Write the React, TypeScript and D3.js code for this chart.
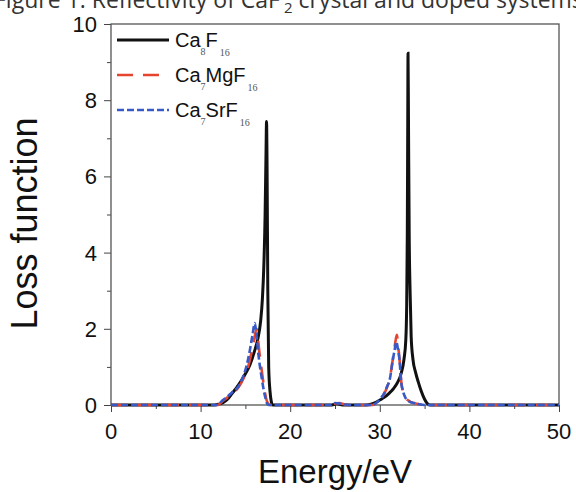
import { useEffect, useRef } from "react";
import * as d3 from "d3";

// energy (eV) / loss function readings
const ca8f16 = [
  [0, 0], [10, 0], [11.5, 0], [12, 0.02], [12.5, 0.06], [13, 0.15], [13.5, 0.3],
  [14, 0.45], [14.5, 0.62], [15, 0.82], [15.5, 1.05], [16, 1.4], [16.4, 1.75],
  [16.7, 2.2], [16.9, 2.8], [17.05, 3.6], [17.2, 5.0], [17.3, 6.6], [17.36, 7.44],
  [17.42, 6.2], [17.5, 3.0], [17.6, 1.0], [17.75, 0.35], [17.9, 0.08], [18.05, 0],
  [24.5, 0], [25.2, 0.03], [26, 0], [28.5, 0], [29, 0.02], [29.5, 0.06], [30, 0.13],
  [30.5, 0.2], [31, 0.3], [31.5, 0.42], [32, 0.6], [32.4, 0.84], [32.7, 1.2],
  [32.9, 1.7], [33.0, 2.6], [33.07, 4.5], [33.12, 7.5], [33.15, 9.23], [33.2, 7.5],
  [33.28, 4.5], [33.4, 2.8], [33.5, 1.8], [33.7, 1.2], [34.0, 0.85], [34.3, 0.6],
  [34.6, 0.38], [35.0, 0.15], [35.3, 0.04], [35.6, 0], [50, 0],
];

const ca7mgf16 = [
  [0, 0], [11.9, 0], [12.5, 0.11], [13, 0.2], [13.5, 0.3], [14.2, 0.45], [14.8, 0.7],
  [15.3, 1.0], [15.7, 1.4], [16.0, 1.75], [16.25, 2.0], [16.4, 1.75], [16.6, 1.3],
  [16.8, 0.95], [17.0, 0.6], [17.2, 0.3], [17.4, 0.1], [17.6, 0.02], [17.8, 0],
  [24.5, 0], [25, 0.04], [25.5, 0.05], [26, 0.02], [26.5, 0], [29.2, 0], [29.6, 0.05],
  [30.0, 0.14], [30.5, 0.3], [30.8, 0.46], [31.1, 0.68], [31.45, 1.2], [31.7, 1.6],
  [31.9, 1.84], [32.05, 1.55], [32.2, 1.2], [32.4, 0.6], [32.6, 0.36], [32.8, 0.22],
  [33.3, 0.1], [33.8, 0.05], [34.2, 0.03], [35, 0], [50, 0],
];

const ca7srf16 = [
  [0, 0], [11.8, 0], [12.5, 0.13], [13, 0.22], [13.5, 0.33], [14.2, 0.48], [14.7, 0.72],
  [15.1, 1.0], [15.5, 1.44], [15.8, 1.85], [16.05, 2.15], [16.2, 1.9], [16.4, 1.44],
  [16.6, 1.05], [16.8, 0.74], [17.0, 0.45], [17.2, 0.22], [17.4, 0.05], [17.6, 0],
  [24.5, 0], [25, 0.05], [25.5, 0.04], [26, 0.02], [26.5, 0], [29.2, 0], [29.6, 0.05],
  [30.0, 0.15], [30.5, 0.31], [30.8, 0.48], [31.1, 0.66], [31.45, 1.18], [31.7, 1.5],
  [31.85, 1.66], [32.0, 1.5], [32.2, 1.18], [32.4, 0.57], [32.6, 0.35], [32.8, 0.22],
  [33.3, 0.09], [33.8, 0.05], [34.2, 0.03], [35, 0], [50, 0],
];

const xTicks = [0, 10, 20, 30, 40, 50];
const yTicks = [0, 2, 4, 6, 8, 10];

const series = [
  { name: "Ca", sub1: "8", rest: "F", sub2: "16", data: ca8f16, color: "#111", width: 3, dash: null },
  { name: "Ca", sub1: "7", rest: "MgF", sub2: "16", data: ca7mgf16, color: "#e5452f", width: 2.6, dash: "16,10" },
  { name: "Ca", sub1: "7", rest: "SrF", sub2: "16", data: ca7srf16, color: "#3859c8", width: 2.6, dash: "7,3" },
];

const App = () => {
  const svgRef = useRef(null);
  const width = 576;
  const height = 492;
  const m = { left: 111, right: 17, top: 24, bottom: 87 };

  useEffect(() => {
    const svg = d3.select(svgRef.current);
    svg.selectAll("*").remove();

    const x = d3.scaleLinear().domain([0, 50]).range([m.left, width - m.right]);
    const y = d3.scaleLinear().domain([0, 10]).range([height - m.bottom, m.top]);
    const font = "'Liberation Sans', Arial, sans-serif";

    // caption line, cut by the top edge as in the source
    svg
      .append("text")
      .attr("x", -6)
      .attr("y", 8)
      .attr("font-family", "'Open Sans', sans-serif")
      .attr("font-size", 23)
      .attr("fill", "#333")
      .text("Figure 1: Reflectivity of CaF")
      .append("tspan")
      .attr("dy", 5)
      .attr("font-size", 15)
      .text(" 2")
      .append("tspan")
      .attr("dy", -5)
      .attr("font-size", 23)
      .text(" crystal and doped systems");

    const xAxis = d3
      .axisBottom(x)
      .tickValues(d3.range(0, 51, 5))
      .tickSize(0)
      .tickFormat(() => "");
    const gx = svg.append("g").attr("transform", `translate(0,${y(0)})`).call(xAxis);
    gx.select(".domain").remove();
    gx.selectAll(".tick line")
      .attr("stroke", "#444")
      .attr("y2", (d) => (d % 10 === 0 ? 7 : 4));

    xTicks.forEach((t) => {
      svg
        .append("text")
        .attr("x", x(t))
        .attr("y", 439)
        .attr("text-anchor", "middle")
        .attr("font-family", font)
        .attr("font-size", 22)
        .attr("fill", "#111")
        .text(t);
    });

    const gy = svg
      .append("g")
      .attr("transform", `translate(${x(0)},0)`)
      .call(d3.axisLeft(y).tickValues(d3.range(0, 11, 1)).tickSize(0).tickFormat(() => ""));
    gy.select(".domain").remove();
    gy.selectAll(".tick line")
      .attr("stroke", "#444")
      .attr("x2", (d) => (d % 2 === 0 ? -7 : -4));

    yTicks.forEach((t) => {
      svg
        .append("text")
        .attr("x", 97)
        .attr("y", y(t))
        .attr("dy", "0.36em")
        .attr("text-anchor", "end")
        .attr("font-family", font)
        .attr("font-size", 22)
        .attr("fill", "#111")
        .text(t);
    });

    svg
      .append("rect")
      .attr("x", x(0))
      .attr("y", y(10))
      .attr("width", x(50) - x(0))
      .attr("height", y(0) - y(10))
      .attr("fill", "none")
      .attr("stroke", "#555")
      .attr("stroke-width", 1.3);

    const line = d3
      .line()
      .x((d) => x(d[0]))
      .y((d) => y(d[1]))
      .curve(d3.curveMonotoneX);

    series.forEach((s) => {
      svg
        .append("path")
        .datum(s.data)
        .attr("d", line)
        .attr("fill", "none")
        .attr("stroke", s.color)
        .attr("stroke-width", s.width)
        .attr("stroke-dasharray", s.dash);
    });

    // legend
    series.forEach((s, i) => {
      const ly = 40 + i * 35;
      svg
        .append("line")
        .attr("x1", 117)
        .attr("x2", 169)
        .attr("y1", ly)
        .attr("y2", ly)
        .attr("stroke", s.color)
        .attr("stroke-width", s.width)
        .attr("stroke-dasharray", s.dash);
      const t = svg
        .append("text")
        .attr("x", 175)
        .attr("y", ly + 7)
        .attr("font-family", font)
        .attr("font-size", 20)
        .attr("fill", "#111");
      t.append("tspan").text(s.name);
      t.append("tspan")
        .attr("dy", 8)
        .attr("font-family", "'Liberation Serif', serif")
        .attr("font-size", 10)
        .attr("fill", "#555")
        .text(s.sub1);
      t.append("tspan").attr("dy", -8).text(s.rest);
      t.append("tspan")
        .attr("dy", 9)
        .attr("dx", 2)
        .attr("font-family", "'Liberation Serif', serif")
        .attr("font-size", 10)
        .attr("fill", "#555")
        .text(s.sub2);
    });

    svg
      .append("text")
      .attr("x", (x(0) + x(50)) / 2)
      .attr("y", 483)
      .attr("text-anchor", "middle")
      .attr("font-family", font)
      .attr("font-size", 33)
      .attr("fill", "#111")
      .text("Energy/eV");

    svg
      .append("text")
      .attr("transform", `translate(37,${(y(0) + y(10)) / 2 + 9}) rotate(-90)`)
      .attr("text-anchor", "middle")
      .attr("font-family", font)
      .attr("font-size", 36)
      .attr("fill", "#111")
      .text("Loss function");
  }, []);

  return (
    <svg
      ref={svgRef}
      width={width}
      height={height}
      style={{ position: "absolute", left: 0, top: 0, background: "#fff" }}
    />
  );
};

export default App;
